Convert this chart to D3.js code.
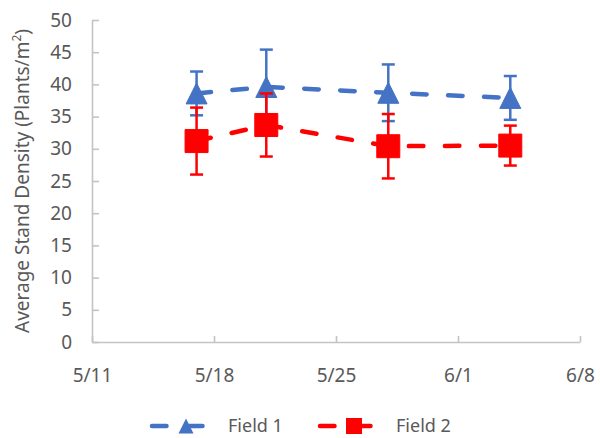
<!DOCTYPE html>
<html lang="en">
<head>
    <meta charset="UTF-8">
    <script src="https://d3js.org/d3.v7.min.js"></script>
    <title>Average Stand Density</title>
    <style>
        body { margin: 0; background: #fff; }
        text { font-family: "Noto Sans", "Open Sans", sans-serif; fill: #595959; }
    </style>
</head>
<body>
    <script>

        // sample dates and values
        var dates = ["2019-05-17", "2019-05-21", "2019-05-28", "2019-06-04"];
        var field1 = [38.6, 39.6, 38.7, 37.9];
        var field1Err = [3.4, 5.8, 4.4, 3.4];
        var field2 = [31.2, 33.7, 30.4, 30.5];
        var field2Err = [5.2, 4.9, 5.0, 3.1];
        var xTickDates = ["2019-05-11", "2019-05-18", "2019-05-25", "2019-06-01", "2019-06-08"];
        var yTickValues = [0, 5, 10, 15, 20, 25, 30, 35, 40, 45, 50];
        var seriesNames = ["Field 1", "Field 2"];

        var parse = d3.timeParse("%Y-%m-%d");
        var fmt = d3.timeFormat("%-m/%-d");

        var svg = d3.select("body").append("svg").attr("width", 600).attr("height", 438);

        var x = d3.scaleTime()
                  .domain([parse(xTickDates[0]), parse(xTickDates[xTickDates.length - 1])])
                  .range([92, 580]);
        var y = d3.scaleLinear().domain([0, 50]).range([342, 20]);

        // axes, ticks pointing inward like the original
        var xAxis = svg.append("g").attr("transform", "translate(0,342)")
            .call(d3.axisBottom(x).tickValues(xTickDates.map(parse)).tickFormat(fmt)
                  .tickSizeInner(-6).tickSizeOuter(0).tickPadding(27));
        var yAxis = svg.append("g").attr("transform", "translate(92,0)")
            .call(d3.axisLeft(y).tickValues(yTickValues)
                  .tickSizeInner(-7).tickSizeOuter(0).tickPadding(20));

        [xAxis, yAxis].forEach(function(g){
            g.select(".domain").attr("stroke", "#c4c4c4").attr("stroke-width", 1.6);
            g.selectAll(".tick line").attr("stroke", "#c4c4c4").attr("stroke-width", 1.6);
            g.selectAll(".tick text").attr("fill", "#595959").style("font-size", "19px")
             .style("font-family", "'Noto Sans', sans-serif");
        });

        // y title
        var title = svg.append("text")
            .attr("transform", "translate(29,181) rotate(-90)")
            .attr("text-anchor", "middle")
            .style("font-size", "19px");
        title.append("tspan").text("Average Stand Density (Plants/m");
        title.append("tspan").text("2").attr("baseline-shift", "super").style("font-size", "12px");
        title.append("tspan").text(")");

        function tri(w) {
            return "M0," + (-w / 2) + "L" + (w / 2) + "," + (w / 2) + "L" + (-w / 2) + "," + (w / 2) + "Z";
        }
        function sq(w) {
            return "M" + (-w / 2) + "," + (-w / 2) + "h" + w + "v" + w + "h" + (-w) + "Z";
        }

        var series = [
            {name: seriesNames[0], vals: field1, errs: field1Err, color: "#4472c4", shape: tri, size: 21, legSize: 15},
            {name: seriesNames[1], vals: field2, errs: field2Err, color: "#ff0000", shape: sq, size: 23, legSize: 16}
        ];

        var line = d3.line().x(function(d){ return x(d.date); }).y(function(d){ return y(d.v); });

        series.forEach(function(s){
            var pts = dates.map(function(d, i){ return {date: parse(d), v: s.vals[i], e: s.errs[i]}; });
            var g = svg.append("g");

            var eb = g.selectAll("g.err").data(pts).join("g").attr("class", "err")
                .attr("stroke", s.color).attr("stroke-width", 2.5);
            eb.append("line")
              .attr("x1", function(d){ return x(d.date); }).attr("x2", function(d){ return x(d.date); })
              .attr("y1", function(d){ return y(d.v - d.e); }).attr("y2", function(d){ return y(d.v + d.e); });
            eb.append("line")
              .attr("x1", function(d){ return x(d.date) - 6.5; }).attr("x2", function(d){ return x(d.date) + 6.5; })
              .attr("y1", function(d){ return y(d.v + d.e); }).attr("y2", function(d){ return y(d.v + d.e); });
            eb.append("line")
              .attr("x1", function(d){ return x(d.date) - 6.5; }).attr("x2", function(d){ return x(d.date) + 6.5; })
              .attr("y1", function(d){ return y(d.v - d.e); }).attr("y2", function(d){ return y(d.v - d.e); });

            g.append("path").datum(pts).attr("d", line)
             .attr("fill", "none").attr("stroke", s.color).attr("stroke-width", 4.5)
             .attr("stroke-linecap", "round").attr("stroke-dasharray", "14.5 21.5");

            g.selectAll("path.mk").data(pts).join("path").attr("class", "mk")
             .attr("d", s.shape(s.size))
             .attr("transform", function(d){ return "translate(" + x(d.date) + "," + y(d.v) + ")"; })
             .attr("fill", s.color).attr("stroke", s.color).attr("stroke-width", 1).attr("stroke-linejoin", "round");
        });

        // legend
        var legX = [152, 320];
        var leg = svg.selectAll("g.leg").data(series).join("g").attr("class", "leg")
            .attr("transform", function(d, i){ return "translate(" + legX[i] + ",426)"; });
        leg.append("line").attr("x1", 0).attr("x2", 54).attr("y1", 0).attr("y2", 0)
           .attr("stroke", function(d){ return d.color; }).attr("stroke-width", 4.5)
           .attr("stroke-linecap", "round").attr("stroke-dasharray", "14.5 21.5");
        leg.append("path").attr("d", function(d){ return d.shape(d.legSize); })
           .attr("transform", "translate(34,0)")
           .attr("fill", function(d){ return d.color; });
        leg.append("text").attr("x", 76).attr("y", 6).text(function(d){ return d.name; })
           .style("font-size", "18px");

    </script>
</body>
</html>
